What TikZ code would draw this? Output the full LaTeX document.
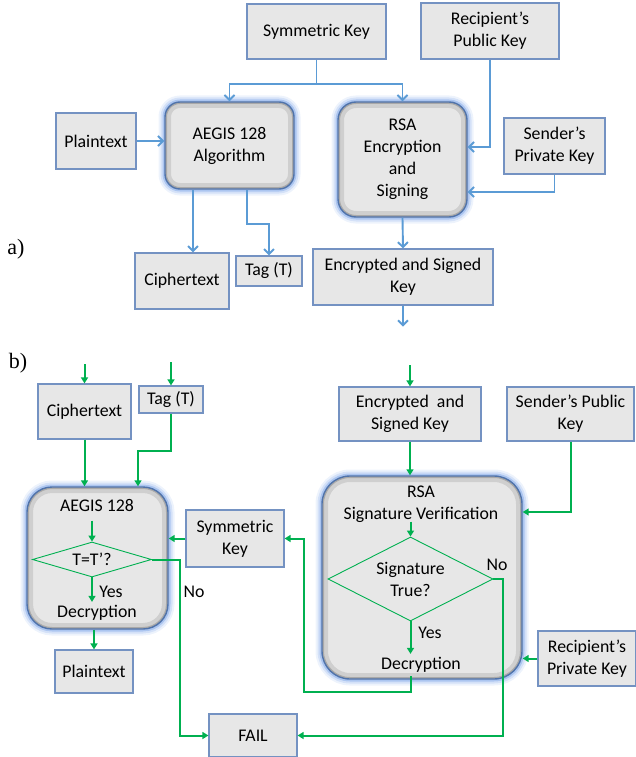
\documentclass[tikz,border=0pt]{standalone}
\usepackage{fontspec}
\setmainfont{Carlito}
\newfontfamily\partfont{Liberation Serif}
\usetikzlibrary{arrows.meta, shapes.geometric}

\definecolor{lineblue}{RGB}{91,155,213}
\definecolor{boxedge}{RGB}{116,146,194}
\definecolor{boxfill}{RGB}{231,231,231}
\definecolor{roundedge}{RGB}{80,115,170}
\definecolor{glowblue}{RGB}{110,155,230}
\definecolor{flowgreen}{RGB}{0,176,80}

\begin{document}
\begin{tikzpicture}[x=1pt, y=-1pt,
    every node/.style={font=\fontsize{17.8}{22}\selectfont, align=center, text=black},
    partlabel/.style={font=\partfont\fontsize{22}{26}\selectfont},
    keybox/.style={draw=boxedge, fill=boxfill, line width=1.2pt, inner sep=0pt},
    procbox/.style={draw=roundedge, fill=boxfill, line width=1.4pt, rounded corners=#1, inner sep=0pt,
        preaction={draw=glowblue, line width=13pt, opacity=0.12},
        preaction={draw=glowblue, line width=9pt, opacity=0.2},
        preaction={draw=glowblue, line width=5pt, opacity=0.4},
        path picture={
            \draw[black, opacity=0.10, line width=12pt, rounded corners=#1]
                (path picture bounding box.south west) rectangle (path picture bounding box.north east);
            \draw[black, opacity=0.18, line width=4pt, rounded corners=#1]
                (path picture bounding box.south west) rectangle (path picture bounding box.north east);
        }},
    diam/.style={diamond, draw=flowgreen, line width=0.9pt, inner sep=0pt},
    bluearrow/.style={draw=lineblue, line width=1.9pt, -{Straight Barb[length=5pt, width=10pt]}},
    greenarrow/.style={draw=flowgreen, line width=2pt, -{Triangle[length=6pt, width=7pt]}}]

  \useasboundingbox (0,0) rectangle (635,757);

  % a) encryption
  \node[keybox, minimum width=139pt, minimum height=55pt] (symkey) at (316.5,31.5) {Symmetric Key};
  \node[keybox, minimum width=138pt, minimum height=56pt] (recpub) at (490,31) {Recipient’s\\Public Key};
  \node[keybox, minimum width=80pt, minimum height=56pt] (plain) at (96,141) {Plaintext};
  \node[procbox=15pt, minimum width=129pt, minimum height=87pt] (aegis) at (229.5,145.5) {AEGIS 128\\Algorithm};
  \node[procbox=18pt, minimum width=129pt, minimum height=115pt] (rsa) at (402.5,159.5) {RSA\\Encryption\\and\\Signing};
  \node[keybox, minimum width=101pt, minimum height=56pt] (sendpriv) at (554.5,146) {Sender’s\\Private Key};
  \node[keybox, minimum width=94pt, minimum height=56pt] (ciph) at (182,281) {Ciphertext};
  \node[keybox, minimum width=66pt, minimum height=30pt] (tag) at (269,271) {Tag (T)};
  \node[keybox, minimum width=180pt, minimum height=56pt] (encsig) at (403,277) {Encrypted and Signed\\Key};
  \node[partlabel] (parta) at (16,249) {a)};

  \draw[bluearrow] (symkey.south) -- ++(0,24) coordinate (fork) -| (aegis.north);
  \draw[bluearrow] (fork) -| (rsa.north);
  \draw[bluearrow] (plain.east) -- (plain.east -| aegis.west);
  \draw[bluearrow] (recpub.south) |- (rsa.east |- 0,147);
  \draw[bluearrow] (sendpriv.south) |- (rsa.east |- 0,192);
  \draw[bluearrow] (aegis.south -| 193,0) -- (ciph.north -| 193,0);
  \draw[bluearrow] (aegis.south -| 247,0) -- ++(0,34) -| (tag.north);
  \draw[bluearrow] (rsa.south) -- (encsig.north);
  \draw[bluearrow] (encsig.south) -- ++(0,21) coordinate (encsig-out);

  % b) decryption
  \node[partlabel] (partb) at (18,363) {b)};
  \node[keybox, minimum width=93pt, minimum height=55pt] (ciphB) at (84.5,411.5) {Ciphertext};
  \node[keybox, minimum width=64pt, minimum height=27pt] (tagB) at (171,399.5) {Tag (T)};
  \node[keybox, minimum width=142pt, minimum height=54pt] (encB) at (410,414) {Encrypted~~and\\Signed Key};
  \node[keybox, minimum width=127pt, minimum height=54pt] (sendpub) at (570.5,414) {Sender’s Public\\Key};
  \node[procbox=25pt, minimum width=141pt, minimum height=142pt] (aegisB) at (97.5,558) {};
  \node[procbox=28pt, minimum width=200pt, minimum height=203pt] (rsaB) at (422,577.5) {};
  \node[keybox, minimum width=98pt, minimum height=57pt] (symB) at (235,538.5) {Symmetric\\Key};
  \node[keybox, minimum width=78pt, minimum height=43pt] (plainB) at (94,671.5) {Plaintext};
  \node[keybox, minimum width=88pt, minimum height=43pt] (fail) at (253,735.5) {FAIL};
  \node[keybox, minimum width=98pt, minimum height=55pt] (recpriv) at (587,658.5) {Recipient’s\\Private Key};

  % inside the AEGIS block
  \node (aegisB-title) at (97,505) {AEGIS 128};
  \node[diam, minimum width=119pt, minimum height=35pt] (check) at (92,559.5) {};
  \node (check-txt) at (check) {T=T’?};
  \node (aegisB-dec) at (97,613) {Decryption};
  \node (yes1) at (111,592) {Yes};
  \node (no1) at (194,592) {No};

  % inside the RSA block
  \node (rsaB-title) at (421,504.5) {RSA\\Signature Verification};
  \node[diam, minimum width=165pt, minimum height=84pt] (sigcheck) at (410.5,579) {};
  \node (sigcheck-txt) at (sigcheck) {Signature\\True?};
  \node (rsaB-dec) at (421,665) {Decryption};
  \node (yes2) at (430,633) {Yes};
  \node (no2) at (497,565) {No};

  \draw[greenarrow] ([yshift=19pt]ciphB.north) -- (ciphB.north);
  \draw[greenarrow] ([yshift=23pt]tagB.north) -- (tagB.north);
  \draw[greenarrow] ([yshift=21pt]encB.north) -- (encB.north);
  \draw[greenarrow] (ciphB.south) -- (ciphB.south |- aegisB.north);
  \draw[greenarrow] (tagB.south) -- ++(0,37) -| (aegisB.north -| 138,0);
  \draw[greenarrow] ([yshift=21pt]check.north) -- (check.north);
  \draw[greenarrow] (check.south) -- (check.south |- aegisB-dec.north);
  \draw[greenarrow] (aegisB.south -| plainB.north) -- (plainB.north);
  \draw[greenarrow] (check.east) -| (180,0 |- fail.west) -- (fail.west);
  \draw[greenarrow] (symB.west) -- (symB.west -| aegisB.east);
  \draw[greenarrow] (encB.south) -- (encB.south |- rsaB.north);
  \draw[greenarrow] (sendpub.south) |- (rsaB.east |- 0,512);
  \draw[greenarrow] ([yshift=15pt]sigcheck.north) -- (sigcheck.north);
  \draw[greenarrow] (sigcheck.south) -- (sigcheck.south |- rsaB-dec.north);
  \draw[greenarrow] (sigcheck.east) -- ++(10,0) |- (fail.east);
  \draw[greenarrow] (rsaB-dec.south -| sigcheck.south) -- ++(0,16) -| ([xshift=19pt]symB.east) -- (symB.east);
  \draw[greenarrow] (recpriv.west) -- (recpriv.west -| rsaB.east);
\end{tikzpicture}
\end{document}
